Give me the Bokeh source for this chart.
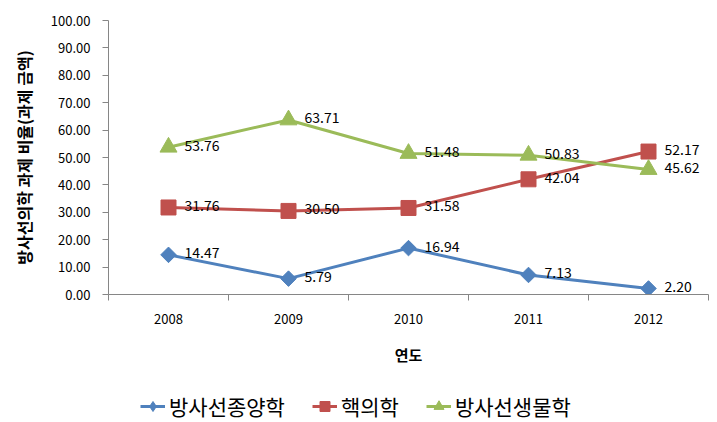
from bokeh.plotting import figure
from bokeh.models import (Range1d, FixedTicker, NumeralTickFormatter, Legend, LegendItem,
                          ColumnDataSource)
from bokeh.layouts import column
from bokeh.core.properties import value
from bokeh.embed import file_html
from bokeh.resources import INLINE
import math

years = ["2008", "2009", "2010", "2011", "2012"]
series_names = ["방사선종양학", "핵의학", "방사선생물학"]
oncology = [14.47, 5.79, 16.94, 7.13, 2.20]
nuclear = [31.76, 30.50, 31.58, 42.04, 52.17]
biology = [53.76, 63.71, 51.48, 50.83, 45.62]
y_ticks = [0, 10, 20, 30, 40, 50, 60, 70, 80, 90, 100]
y_title = "방사선의학 과제 비율(과제 금액)"
x_title = "연도"

FONT = "Noto Sans CJK KR"
colors = ["#4F81BD", "#C0504D", "#9BBB59"]

p = figure(width=717, height=380, output_backend="svg", toolbar_location=None,
           x_range=Range1d(-0.5, len(years) - 0.5), y_range=Range1d(0, 100),
           min_border_left=108, min_border_right=9, min_border_top=20, min_border_bottom=86)
p.outline_line_color = None
p.xgrid.visible = False
p.ygrid.visible = False
p.background_fill_color = "white"
p.border_fill_color = "white"

xs = list(range(len(years)))

# x axis
xa = p.xaxis[0]
xa.ticker = FixedTicker(ticks=xs, minor_ticks=[i - 0.5 for i in range(len(years) + 1)])
xa.major_label_overrides = {i: y for i, y in enumerate(years)}
xa.major_tick_out = 0
xa.major_tick_in = 0
xa.minor_tick_out = 6
xa.minor_tick_in = 0
xa.minor_tick_line_color = "#868686"
xa.axis_line_color = "#868686"
xa.major_label_standoff = 13
xa.major_label_text_font = FONT
xa.major_label_text_font_size = "13px"
xa.major_label_text_color = "black"
xa.axis_label = x_title
xa.axis_label_text_font = FONT
xa.axis_label_text_font_size = "15px"
xa.axis_label_text_font_style = "bold"
xa.axis_label_text_color = "black"
xa.axis_label_standoff = 17

# y axis
ya = p.yaxis[0]
ya.ticker = FixedTicker(ticks=y_ticks, minor_ticks=[])
ya.formatter = NumeralTickFormatter(format="0.00")
ya.major_tick_out = 6
ya.major_tick_in = 0
ya.major_tick_line_color = "#868686"
ya.axis_line_color = "#868686"
ya.major_label_standoff = 12
ya.major_label_text_font = FONT
ya.major_label_text_font_size = "13px"
ya.major_label_text_color = "black"
ya.axis_label = y_title
ya.axis_label_text_font = FONT
ya.axis_label_text_font_size = "16px"
ya.axis_label_text_font_style = "bold"
ya.axis_label_text_color = "black"
ya.axis_label_standoff = 12

datasets = [oncology, nuclear, biology]
marker_specs = [("square", math.pi / 4, 11), ("square", 0.0, 15), ("triangle", 0.0, 17)]
for vals, col, (mk, ang, sz) in zip(datasets, colors, marker_specs):
    src = ColumnDataSource(dict(x=xs, y=vals, t=["%.2f" % v for v in vals]))
    p.line("x", "y", source=src, line_color=col, line_width=3)
    p.scatter("x", "y", source=src, marker=mk, angle=ang, size=sz,
              fill_color=col, line_color=col)
    p.text("x", "y", text="t", source=src, x_offset=16, y_offset=-2,
           text_baseline="middle", text_align="left", text_font=value(FONT),
           text_font_size="14px", text_color="black")

# legend strip below the chart (its series lie outside its visible range)
lg = figure(width=717, height=42, output_backend="svg", toolbar_location=None,
            x_range=Range1d(100, 101), y_range=Range1d(1000, 1001),
            x_axis_type=None, y_axis_type=None,
            min_border_left=108, min_border_right=9, min_border_top=0, min_border_bottom=0)
lg.outline_line_color = None
lg.xgrid.visible = False
lg.ygrid.visible = False
lg.border_fill_color = "white"
items = []
legend_markers = ["diamond", "square", "triangle"]
for name, vals, col, mk in zip(series_names, datasets, colors, legend_markers):
    src = ColumnDataSource(dict(x=xs, y=vals))
    ln = lg.line("x", "y", source=src, line_color=col, line_width=3)
    sc = lg.scatter("x", "y", source=src, marker=mk, fill_color=col, line_color=col)
    items.append(LegendItem(label=name, renderers=[ln, sc]))

legend = Legend(items=items, orientation="horizontal", location=(32, 1),
                glyph_width=25, glyph_height=28, label_standoff=4, spacing=27,
                label_text_font=FONT, label_text_font_size="21px", label_text_color="black",
                padding=0, margin=0, border_line_alpha=0, background_fill_alpha=0)
lg.add_layout(legend)

layout = column(p, lg, spacing=0)
open("out.html", "w").write(file_html(layout, INLINE))
